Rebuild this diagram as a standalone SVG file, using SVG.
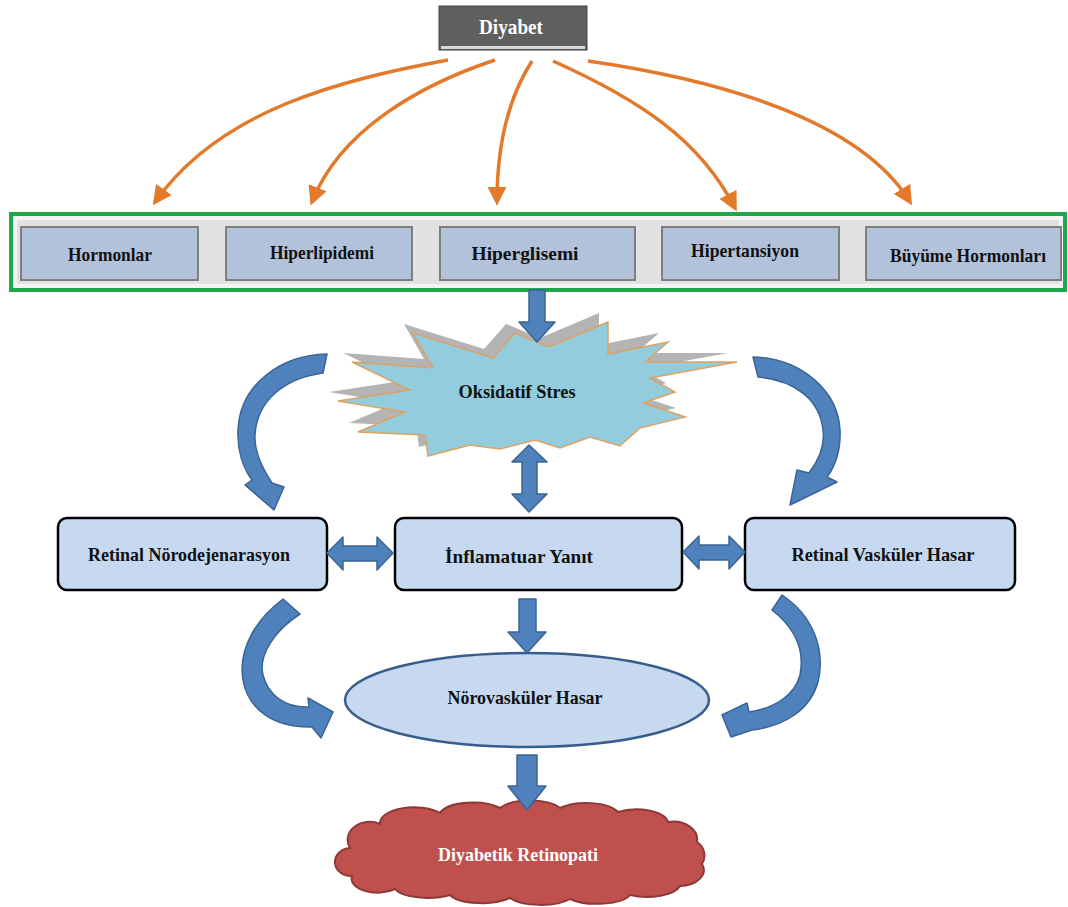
<svg xmlns="http://www.w3.org/2000/svg" width="1068" height="907" viewBox="0 0 1068 907">
<defs>
<style>
.t{font-family:"Liberation Serif","Times New Roman",serif;font-weight:bold;text-anchor:middle;fill:#111}
.tb{fill:#b2c2da;stroke:#7f7f7f;stroke-width:2}
.rb{fill:#c6d9f1;stroke:#000;stroke-width:2.5}
.ba{fill:#4f81bd;stroke:#3a6494;stroke-width:1.5;stroke-linejoin:round}
.oa{fill:none;stroke:#e2792b;stroke-width:3.5}
</style>
<marker id="oh" viewBox="0 0 10 10" refX="8" refY="5" markerWidth="5.5" markerHeight="5.5" orient="auto" markerUnits="strokeWidth">
<path d="M0,0 L10,5 L0,10 Z" fill="#e2792b"/>
</marker>
</defs>
<rect width="1068" height="907" fill="#fff"/>

<g id="node-diyabet">
<rect x="439" y="6" width="148" height="44" fill="#5f5f5f" stroke="#444" stroke-width="1"/>
<rect x="441" y="46" width="144" height="3" fill="#d8d8d8"/>
<text class="t" x="511" y="34" font-size="21" textLength="64" lengthAdjust="spacingAndGlyphs" style="fill:#fff">Diyabet</text>
</g>

<g id="connectors-orange">
<path class="oa" d="M448,60 C340,80 220,110 155,202" marker-end="url(#oh)"/>
<path class="oa" d="M495,60 C420,85 340,130 312,202" marker-end="url(#oh)"/>
<path class="oa" d="M532,61 C510,95 497,140 497,202" marker-end="url(#oh)"/>
<path class="oa" d="M553,61 C640,100 700,140 735,208" marker-end="url(#oh)"/>
<path class="oa" d="M588,61 C720,80 860,120 910,202" marker-end="url(#oh)"/>
</g>

<g id="group-factors">
<rect x="11" y="214" width="1054" height="76" fill="#f4f4f4" stroke="#1fa74b" stroke-width="4"/>
<rect x="17" y="220" width="1042" height="64" fill="#e2e2e2"/>
</g>
<g id="node-hormonlar"><rect class="tb" x="21" y="227" width="177" height="53"/><text class="t" x="110" y="261" font-size="19" textLength="84" lengthAdjust="spacingAndGlyphs">Hormonlar</text></g>
<g id="node-hiperlipidemi"><rect class="tb" x="226" y="227" width="186" height="53"/><text class="t" x="322" y="259" font-size="19" textLength="104" lengthAdjust="spacingAndGlyphs">Hiperlipidemi</text></g>
<g id="node-hiperglisemi"><rect class="tb" x="440" y="227" width="195" height="53"/><text class="t" x="525" y="260" font-size="19" textLength="107" lengthAdjust="spacingAndGlyphs">Hiperglisemi</text></g>
<g id="node-hipertansiyon"><rect class="tb" x="662" y="227" width="177" height="53"/><text class="t" x="745" y="257" font-size="19" textLength="108" lengthAdjust="spacingAndGlyphs">Hipertansiyon</text></g>
<g id="node-buyume"><rect class="tb" x="866" y="227" width="195" height="53"/><text class="t" x="968" y="262" font-size="18.5" textLength="156" lengthAdjust="spacingAndGlyphs">Büyüme Hormonları</text></g>

<g id="node-oksidatif">
<polygon transform="translate(-9,-9)" fill="#b4b4b4" points="338,401 405,412 358,432 425,435 428,456 470,445 500,449 535,440 560,448 590,437 620,446 640,428 685,417 643,403 675,392 650,378 737,362 645,362 668,342 608,354 608,322 549,347 515,333 493,358 413,333 433,368 352,362 410,390"/>
<polygon fill="#93cddd" stroke="#dca264" stroke-width="1.5" points="338,401 405,412 358,432 425,435 428,456 470,445 500,449 535,440 560,448 590,437 620,446 640,428 685,417 643,403 675,392 650,378 737,362 645,362 668,342 608,354 608,322 549,347 515,333 493,358 413,333 433,368 352,362 410,390"/>
<text class="t" x="517" y="398" font-size="19.5" textLength="117" lengthAdjust="spacingAndGlyphs">Oksidatif Stres</text>
</g>

<g id="node-retinal-noro"><rect class="rb" x="58" y="518" width="269" height="72" rx="9"/><text class="t" x="189" y="561" font-size="19.5" textLength="202" lengthAdjust="spacingAndGlyphs">Retinal Nörodejenarasyon</text></g>
<g id="node-inflamatuar"><rect class="rb" x="395" y="518" width="287" height="72" rx="9"/><text class="t" x="519" y="563" font-size="19.5" textLength="148" lengthAdjust="spacingAndGlyphs">İnflamatuar Yanıt</text></g>
<g id="node-retinal-vask"><rect class="rb" x="745" y="518" width="270" height="72" rx="9"/><text class="t" x="883" y="561" font-size="19.5" textLength="183" lengthAdjust="spacingAndGlyphs">Retinal Vasküler Hasar</text></g>

<g id="node-norovaskuler">
<ellipse cx="527" cy="700" rx="182" ry="47" fill="#c6d9f1" stroke="#385d8a" stroke-width="2.5"/>
<text class="t" x="525" y="704" font-size="19" textLength="155" lengthAdjust="spacingAndGlyphs">Nörovasküler Hasar</text>
</g>

<g id="node-retinopati">
<path fill="#c0504d" stroke="#8c3a37" stroke-width="2" d="M350,848 A22,18 0 0 1 380,824 A34,16 0 0 1 440,813 A34,14 0 0 1 500,808 A34,14 0 0 1 560,808 A34,14 0 0 1 618,812 A32,15 0 0 1 668,822 A24,18 0 0 1 697,842 A16,16 0 0 1 702,864 A24,16 0 0 1 680,886 A34,14 0 0 1 630,895 A34,12 0 0 1 570,899 A34,12 0 0 1 510,898 A34,12 0 0 1 450,895 A34,12 0 0 1 395,889 A26,14 0 0 1 352,876 A16,14 0 0 1 350,848 Z"/>
<text class="t" x="518" y="861" font-size="19" textLength="160" lengthAdjust="spacingAndGlyphs" style="fill:#fff">Diyabetik Retinopati</text>
</g>

<g id="connectors-blue">
<polygon class="ba" points="529,290 545,290 545,322 555,322 537,342 519,322 529,322"/>
<polygon class="ba" points="529,445 512,462 522,462 522,494 512,494 529,512 547,494 537,494 537,462 547,462"/>
<polygon class="ba" points="327,553 343,537 343,546 377,546 377,537 393,553 377,570 377,561 343,561 343,570"/>
<polygon class="ba" points="683,552 699,536 699,545 729,545 729,536 745,552 729,569 729,560 699,560 699,569"/>
<polygon class="ba" points="519,599 536,599 536,632 546,632 527,653 508,632 519,632"/>
<polygon class="ba" points="517,755 537,755 537,786 546,786 527,810 508,786 517,786"/>
<path class="ba" d="M327,354 C280,355 240,385 238,430 C237,450 243,468 252,480 L245,485 L274,510 L284,487 L272,483 C262,468 254,452 255,435 C257,400 285,378 323,373 Z"/>
<path class="ba" d="M753,357 C800,358 838,390 840,430 C841,450 835,467 827,477 L837,482 L790,505 L797,470 L809,473 C819,460 825,445 823,430 C820,400 795,380 758,377 Z"/>
<path class="ba" d="M283,599 C255,620 238,650 243,680 C248,710 275,728 312,727 L321,738 L333,712 L308,698 L309,707 C285,708 268,695 263,675 C258,655 275,630 300,614 Z"/>
<path class="ba" d="M782,595 C812,615 826,648 818,682 C810,710 785,726 752,730 L731,737 L722,715 L747,703 L749,712 C775,708 795,695 800,675 C805,650 795,628 772,610 Z"/>
</g>
</svg>
